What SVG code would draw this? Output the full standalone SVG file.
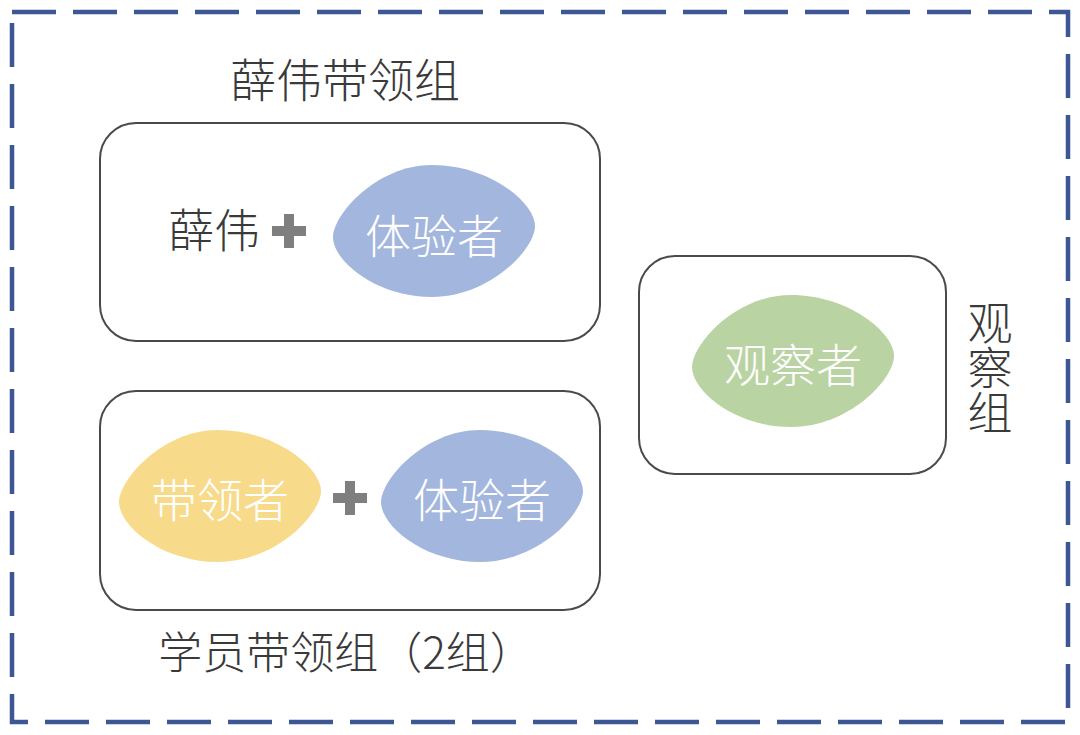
<svg xmlns="http://www.w3.org/2000/svg" width="1080" height="735" viewBox="0 0 1080 735">
<defs>
<style>
.frame{fill:none;stroke:#3d5694;stroke-width:4.5;stroke-dasharray:44 17}
.box{fill:#fff;stroke:#4a4a4a;stroke-width:2}
.t{font-family:"Noto Sans CJK SC","Noto Sans",sans-serif;font-size:46px;font-weight:300;fill:#3a3a3a;text-anchor:middle;dominant-baseline:central}
.w{fill:#fff}
.plus{fill:#7f7f7f}
.blue{fill:#a3b6dd}
.yellow{fill:#f8da8b}
.green{fill:#bad3a3}
</style>
<path id="blob" d="M -101,6 C -101,-16 -58,-66 -2,-66 C 56,-66 101,-28 101,-5 C 101,18 56,66 -2,66 C -58,66 -101,30 -101,6 Z"/>
<path id="plus" d="M -5,-17 H 5 V -5 H 17 V 5 H 5 V 17 H -5 V 5 H -17 V -5 H -5 Z"/>
</defs>
<rect width="1080" height="735" fill="#fff"/>
<rect class="frame" x="12" y="12" width="1056" height="710"/>
<g id="connectors"></g>
<g id="lead-group-xuewei">
<text class="t" x="345" y="77">薛伟带领组</text>
<rect class="box" x="100" y="123" width="500" height="218" rx="36"/>
<text class="t" x="214" y="227">薛伟</text>
<use href="#plus" class="plus" x="289" y="231"/>
<use href="#blob" class="blue" x="434" y="231"/>
<text class="t w" x="434" y="233">体验者</text>
</g>
<g id="lead-group-student">
<rect class="box" x="100" y="391" width="500" height="219" rx="36"/>
<use href="#blob" class="yellow" x="220" y="496"/>
<text class="t w" x="220" y="497">带领者</text>
<use href="#plus" class="plus" x="350" y="498"/>
<use href="#blob" class="blue" x="482" y="496"/>
<text class="t w" x="482" y="497">体验者</text>
<text class="t" x="346" y="650" style="font-size:44px">学员带领组（2组）</text>
</g>
<g id="observer-group">
<rect class="box" x="639" y="256" width="307" height="218" rx="36"/>
<use href="#blob" class="green" x="793" y="361"/>
<text class="t w" x="793" y="362">观察者</text>
<text class="t" x="990" y="368" writing-mode="vertical-rl" style="font-size:45px">观察组</text>
</g>
</svg>
